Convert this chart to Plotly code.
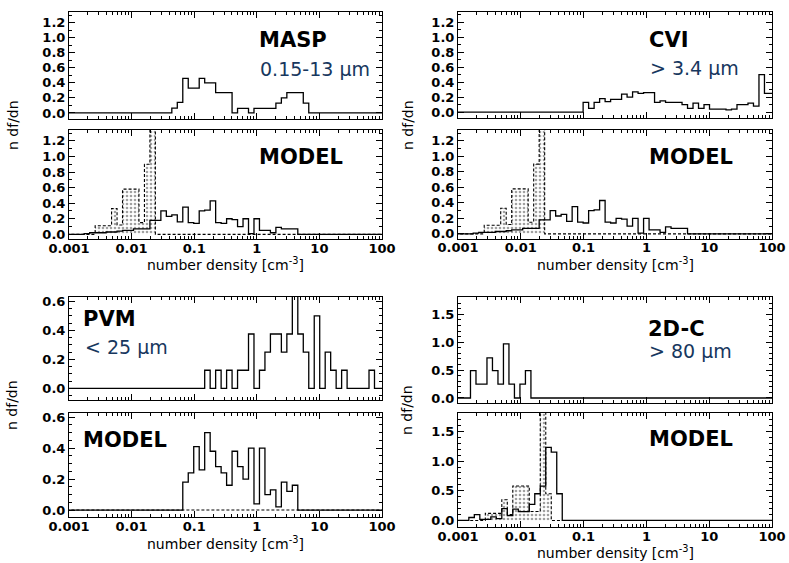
import numpy as np
import plotly.graph_objects as go

# ---------------- data ----------------
# shared logarithmic bin grid: log10(edge_k) = BIN_BASE + BIN_WIDTH * k
BIN_BASE = -3.02
BIN_WIDTH = 0.0875

x_tick_values = [0.001, 0.01, 0.1, 1, 10, 100]
x_tick_labels = ["0.001", "0.01", "0.1", "1", "10", "100"]

# MASP observation
masp_obs_start = 19
masp_obs = [0.065, 0.14, 0.46, 0.33, 0.33, 0.46, 0.40, 0.40, 0.27, 0.27, 0.27, 0.0,
            0.06, 0.06, 0.0, 0.06, 0.06, 0.06, 0.06, 0.13, 0.2, 0.27, 0.27, 0.27, 0.13]

# CVI observation
cvi_obs_start = 23
cvi_obs = [0.13, 0.05, 0.13, 0.18, 0.14, 0.17, 0.17, 0.24, 0.2, 0.27, 0.25, 0.26,
           0.26, 0.13, 0.15, 0.13, 0.13, 0.13, 0.1, 0.05, 0.12, 0.05, 0.1, 0.04,
           0.04, 0.04, 0.03, 0.04, 0.1, 0.1, 0.12, 0.08, 0.5, 0.25, 0.25]

# model (MASP / CVI size ranges) - solid and dashed histograms
model_ac_start = 3
model_ac = [0.01, 0.02, 0.02, 0.02, 0.03, 0.03, 0.04, 0.05, 0.05, 0.07, 0.07, 0.07,
            0.18, 0.18, 0.3, 0.23, 0.25, 0.16, 0.35, 0.15, 0.14, 0.3, 0.31, 0.43,
            0.15, 0.14, 0.2, 0.19, 0.1, 0.2, 0.01, 0.2, 0.05, 0.05, 0.02, 0.09,
            0.07, 0.07, 0.07]
model_ac_dash_start = 5
model_ac_dash = [0.11, 0.11, 0.11, 0.33, 0.12, 0.58, 0.58, 0.58, 0.15, 0.9, 1.6]

# PVM observation and model
pvm_obs_start = 25
pvm_obs = [0.125, 0.0, 0.125, 0.0, 0.125, 0.0, 0.125, 0.125, 0.375, 0.0, 0.125,
           0.25, 0.375, 0.375, 0.25, 0.375, 0.65, 0.375, 0.25, 0.0, 0.5, 0.0, 0.25,
           0.125, 0.0, 0.125, 0.0, 0.0, 0.0, 0.0, 0.125]
pvm_model_start = 21
pvm_model = [0.18, 0.24, 0.41, 0.26, 0.5, 0.38, 0.28, 0.24, 0.16, 0.38, 0.28, 0.2,
             0.4, 0.04, 0.4, 0.1, 0.13, 0.02, 0.18, 0.12, 0.16]
pvm_model_dash_start = 21
pvm_model_dash = [0.0] * 21

# 2D-C observation and model
c2d_obs_start = 2.5
c2d_obs = [0.49, 0.25, 0.25, 0.72, 0.49, 0.25, 0.97, 0.25, 0.0, 0.25, 0.49]
c2d_model_start = 2.2
c2d_model = [0.05, 0.1, 0.02, 0.02, 0.06, 0.03, 0.2, 0.08, 0.19, 0.15, 0.15, 0.27,
             0.45, 0.58, 1.23, 1.15, 0.45]
c2d_model_dash_start = 5.2
c2d_model_dash = [0.12, 0.12, 0.12, 0.35, 0.1, 0.58, 0.58, 0.58, 0.15, 0.15, 2.0, 0.45]

# ---------------- layout helpers ----------------
W, H = 789, 563


def px_x(p):
    return p / W


def px_y(p):
    return 1 - p / H


def step_xy(start, vals):
    k = start + np.arange(len(vals) + 1)
    edges = 10 ** (BIN_BASE + BIN_WIDTH * k)
    x = [1e-4] + list(edges) + [1e3]
    y = [0.0] + list(vals) + [0.0, 0.0]
    return x, y


# panel boxes in pixels: (left, top, right, bottom)
panels = [
    dict(box=(69, 12, 382, 119), yr=[-0.08, 1.34], ydt=0.2, ymin=0.1, ymax=1.2, lab=False),
    dict(box=(69, 130, 382, 239), yr=[-0.06, 1.34], ydt=0.2, ymin=0.1, ymax=1.2, lab=True),
    dict(box=(458, 12, 772, 118), yr=[-0.08, 1.34], ydt=0.2, ymin=0.1, ymax=1.2, lab=False),
    dict(box=(458, 130, 772, 238.5), yr=[-0.06, 1.34], ydt=0.2, ymin=0.1, ymax=1.2, lab=True),
    dict(box=(69, 297, 382, 400), yr=[-0.08, 0.63], ydt=0.2, ymin=0.05, ymax=0.6, lab=False),
    dict(box=(69, 413, 382, 517), yr=[-0.045, 0.627], ydt=0.2, ymin=0.05, ymax=0.6, lab=True),
    dict(box=(458, 297, 772, 403), yr=[-0.09, 1.81], ydt=0.5, ymin=0.1, ymax=1.5, lab=False),
    dict(box=(458, 413, 772, 527), yr=[-0.11, 1.81], ydt=0.5, ymin=0.1, ymax=1.5, lab=True),
]

fig = go.Figure()

minor_x = [m * 10.0 ** e for e in range(-3, 2) for m in range(2, 10)]

SOLID = dict(color="black", width=1.3, shape="hv")
DASH = dict(color="black", width=1.1, shape="hv", dash="3px,2px")
PATTERN = dict(shape=".", fgcolor="#444444", bgcolor="rgba(255,255,255,0)", size=4, solidity=0.35)


def add_solid(i, start, vals):
    x, y = step_xy(start, vals)
    ax = "" if i == 1 else str(i)
    fig.add_trace(go.Scatter(x=x, y=y, mode="lines", line=SOLID,
                             xaxis="x" + ax, yaxis="y" + ax, showlegend=False,
                             hoverinfo="skip"))


def add_dash(i, start, vals):
    x, y = step_xy(start, vals)
    ax = "" if i == 1 else str(i)
    fig.add_trace(go.Scatter(x=x, y=y, mode="lines", line=DASH, fill="tozeroy",
                             fillcolor="rgba(0,0,0,0)", fillpattern=PATTERN,
                             xaxis="x" + ax, yaxis="y" + ax, showlegend=False,
                             hoverinfo="skip"))


add_solid(1, masp_obs_start, masp_obs)
add_dash(2, model_ac_dash_start, model_ac_dash)
add_solid(2, model_ac_start, model_ac)
add_solid(3, cvi_obs_start, cvi_obs)
add_dash(4, model_ac_dash_start, model_ac_dash)
add_solid(4, model_ac_start, model_ac)
add_solid(5, pvm_obs_start, pvm_obs)
add_dash(6, pvm_model_dash_start, pvm_model_dash)
add_solid(6, pvm_model_start, pvm_model)
add_solid(7, c2d_obs_start, c2d_obs)
add_dash(8, c2d_model_dash_start, c2d_model_dash)
add_solid(8, c2d_model_start, c2d_model)

TICKFONT = dict(family="DejaVu Sans", size=13, color="black", weight="bold")
YTICKFONT = dict(family="DejaVu Sans", size=13, color="black", weight="bold")

layout = dict(
    width=W, height=H, margin=dict(l=0, r=0, t=0, b=0, pad=0, autoexpand=False),
    paper_bgcolor="white", plot_bgcolor="white", showlegend=False,
)

for i, p in enumerate(panels, start=1):
    l, t, r, b = p["box"]
    ax = "" if i == 1 else str(i)
    layout["xaxis" + ax] = dict(
        type="log", range=[-3, 2], domain=[px_x(l), px_x(r)], automargin=False,
        anchor="y" + ax, tickmode="array", tickvals=x_tick_values,
        ticktext=x_tick_labels, showticklabels=p["lab"], ticks="inside",
        ticklen=6, tickwidth=1, tickcolor="black", showline=True,
        linecolor="black", linewidth=1, mirror="allticks", showgrid=False,
        zeroline=False, tickfont=TICKFONT, ticklabelstandoff=-3,
        minor=dict(tickmode="array", tickvals=minor_x, ticks="inside",
                   ticklen=3, tickcolor="black", tickwidth=1, showgrid=False),
    )
    yt = list(np.round(np.arange(0, p["ymax"] + 1e-9, p["ydt"]), 3))
    layout["yaxis" + ax] = dict(
        range=p["yr"], domain=[px_y(b), px_y(t)], anchor="x" + ax, automargin=False,
        tickmode="array", tickvals=yt, ticktext=["%.1f" % v for v in yt],
        ticks="inside", ticklen=6, tickwidth=1, tickcolor="black",
        showline=True, linecolor="black", linewidth=1, mirror="allticks",
        showgrid=False, zeroline=False, tickfont=YTICKFONT,
        minor=dict(dtick=p["ymin"], tick0=0, ticks="inside", ticklen=3,
                   tickcolor="black", tickwidth=1, showgrid=False),
    )

fig.update_layout(**layout)

LABEL = dict(family="DejaVu Sans", size=21, color="black", weight="bold")
BLUE = dict(family="DejaVu Sans", size=19, color="#17375e")
YTITLE = dict(family="DejaVu Sans", size=14, color="black")
XTITLE = dict(family="DejaVu Sans", size=14, color="black")

texts = [
    ("MASP", 257, 40, LABEL), ("0.15-13 µm", 258, 69, BLUE), ("MODEL", 257, 157, LABEL),
    ("CVI", 647, 40, LABEL), ("> 3.4 µm", 648, 68, BLUE), ("MODEL", 647, 157, LABEL),
    ("PVM", 81, 319, LABEL), ("< 25 µm", 83, 347, BLUE), ("MODEL", 81, 440, LABEL),
    ("2D-C", 646, 329, LABEL), ("> 80 µm", 647, 351, BLUE), ("MODEL", 647, 439, LABEL),
]
for txt, x, y, f in texts:
    fig.add_annotation(text=txt, x=px_x(x), y=px_y(y), xref="paper", yref="paper",
                       xanchor="left", yanchor="middle", showarrow=False, font=f)

for x, y in [(13, 125), (408, 125), (12, 405), (407, 410)]:
    fig.add_annotation(text="n df/dn", x=px_x(x), y=px_y(y), xref="paper", yref="paper",
                       xanchor="center", yanchor="middle", textangle=-90,
                       showarrow=False, font=YTITLE)

for x, y in [(225.5, 264), (615, 264), (225.5, 543), (615, 552)]:
    fig.add_annotation(text="number density [cm<sup>-3</sup>]", x=px_x(x), y=px_y(y),
                       xref="paper", yref="paper", xanchor="center", yanchor="middle",
                       showarrow=False, font=XTITLE)

fig.write_html("out.html")
